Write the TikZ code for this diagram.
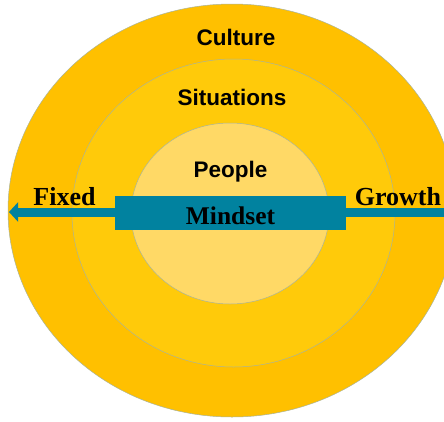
\documentclass[tikz,border=0pt]{standalone}
\usepackage{fontspec}
\setmainfont{Liberation Serif}
\setsansfont{Liberation Sans}
\usetikzlibrary{shapes.geometric,arrows.meta}

\definecolor{ringOuter}{HTML}{FFC000}
\definecolor{ringMiddle}{HTML}{FFCA0A}
\definecolor{ringInner}{HTML}{FFD966}
\definecolor{ringEdge}{HTML}{A9B49A}
\definecolor{barTeal}{HTML}{01829F}

\begin{document}
\begin{tikzpicture}[x=1pt,y=-1pt,
  ring/.style={ellipse, draw=ringEdge, line width=0.5pt, inner sep=0pt},
  ringlabel/.style={anchor=base, inner sep=0pt, font=\sffamily\bfseries\fontsize{22.5}{27}\selectfont},
  sidelabel/.style={anchor=base, inner sep=0pt, font=\rmfamily\bfseries\fontsize{26}{31}\selectfont},
  mindbar/.style={rectangle, fill=barTeal, inner sep=0pt, minimum width=231pt, minimum height=34pt,
    text height=22pt, text depth=0pt, font=\rmfamily\bfseries\fontsize{25.5}{30}\selectfont},
  axisarrow/.style={draw=barTeal, line width=9pt, -{Triangle[length=9pt,width=19pt]}}]
  \useasboundingbox (0,0) rectangle (444,421);
  \clip (0,0) rectangle (444,421);
  \fill[white] (0,0) rectangle (444,421);

  % three nested rings
  \node[ring, fill=ringOuter, minimum width=448pt, minimum height=413pt] (culture) at (232,210.5) {};
  \node[ring, fill=ringMiddle, minimum width=323pt, minimum height=308pt] (situations) at (233.5,213) {};
  \node[ring, fill=ringInner, minimum width=198pt, minimum height=181pt] (people) at (230,213.5) {};

  % ring captions
  \node[ringlabel] (cultureLabel) at (236,45) {Culture};
  \node[ringlabel] (situationsLabel) at (232,105) {Situations};
  \node[ringlabel] (peopleLabel) at (230.5,177) {People};

  % mindset axis running from growth to fixed
  \coordinate (growthEnd) at (446,212);
  \coordinate (fixedTip) at (9,212);
  \draw[axisarrow] (growthEnd) -- (fixedTip);
  \node[mindbar] (mindset) at (230.5,213) {Mindset};

  % axis end labels
  \node[sidelabel] (fixedLabel) at (64.5,205) {Fixed};
  \node[sidelabel] (growthLabel) at (398,205) {Growth};
\end{tikzpicture}
\end{document}
